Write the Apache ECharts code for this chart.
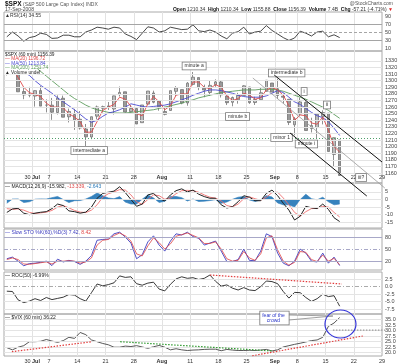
<!DOCTYPE html>
<html><head><meta charset="utf-8">
<script src="https://cdn.jsdelivr.net/npm/echarts@6.0.0/dist/echarts.min.js"></script>
<style>html,body{margin:0;padding:0;background:#fff;}#chart{width:400px;height:364px;}</style>
</head><body><div id="chart"></div>
<script>
// ---------- DATA (trading days, 60-min chart summarised per day) ----------
const days = ['Jun 24','Jun 25','Jun 26','Jun 27','Jun 30','Jul 1','Jul 2','Jul 3','Jul 7','Jul 8','Jul 9','Jul 10','Jul 11','Jul 14','Jul 15','Jul 16','Jul 17','Jul 18','Jul 21','Jul 22','Jul 23','Jul 24','Jul 25','Jul 28','Jul 29','Jul 30','Jul 31','Aug 1','Aug 4','Aug 5','Aug 6','Aug 7','Aug 8','Aug 11','Aug 12','Aug 13','Aug 14','Aug 15','Aug 18','Aug 19','Aug 20','Aug 21','Aug 22','Aug 25','Aug 26','Aug 27','Aug 28','Aug 29','Sep 2','Sep 3','Sep 4','Sep 5','Sep 8','Sep 9','Sep 10','Sep 11','Sep 12','Sep 15','Sep 16','Sep 17','Sep 18','Sep 19','Sep 22','Sep 23','Sep 24','Sep 25','Sep 26','Sep 29'];
const tickLabels = {5:'30 {m|Jul}',8:'7',13:'14',18:'21',23:'28',28:'{m|Aug}',33:'11',38:'18',43:'25',48:'{m|Sep}',52:'8',57:'15',62:'22',67:'29'};
const gridDays = [5,8,13,18,23,28,33,38,43,48,52,57,62];

const priceOpen  = [1317.2,1314.5,1321.9,1283.6,1278.0,1276.7,1285.0,1262.9,1262.9,1251.8,1273.4,1245.3,1248.7,1241.6,1226.8,1214.7,1246.3,1258.2,1261.8,1257.1,1278.9,1283.2,1253.1,1257.8,1236.4,1264.5,1281.4,1269.4,1253.3,1254.9,1283.9,1286.5,1266.3,1294.4,1304.8,1288.6,1282.1,1293.9,1298.1,1276.7,1267.3,1271.1,1277.6,1290.5,1267.0,1271.3,1283.8,1296.5,1287.8,1276.6,1271.8,1233.2,1249.5,1267.0,1227.5,1229.0,1245.9,1250.9,1188.3,1210.3];
const priceHigh  = [1326.0,1335.6,1321.9,1289.5,1290.7,1285.3,1292.2,1271.7,1273.9,1277.8,1277.4,1257.7,1257.3,1254.0,1234.4,1245.5,1262.3,1262.2,1267.7,1277.4,1291.2,1283.2,1263.2,1260.1,1263.2,1284.3,1284.9,1270.5,1260.5,1284.9,1291.7,1286.5,1297.9,1313.2,1304.8,1294.0,1300.1,1302.0,1300.2,1276.7,1276.0,1281.6,1293.1,1290.5,1275.7,1289.6,1300.7,1296.5,1303.0,1280.6,1271.8,1244.9,1274.4,1268.7,1243.9,1249.1,1255.1,1250.9,1214.1,1210.3];
const priceLow   = [1308.0,1314.5,1283.0,1272.0,1274.9,1260.7,1261.5,1252.0,1240.7,1248.8,1244.6,1236.8,1225.4,1225.9,1200.4,1211.4,1241.4,1251.8,1255.7,1248.8,1276.1,1251.5,1251.8,1234.4,1236.4,1264.5,1265.7,1254.5,1247.5,1254.7,1276.6,1264.3,1262.1,1292.8,1285.6,1274.9,1276.8,1290.7,1274.5,1263.1,1261.2,1265.2,1277.6,1264.9,1263.2,1271.1,1283.8,1282.8,1272.2,1265.6,1232.8,1217.2,1247.1,1224.5,1221.6,1211.5,1233.8,1192.7,1169.3,1155.9];
const priceClose = [1314.3,1322.0,1283.2,1278.4,1280.0,1284.9,1261.5,1262.9,1252.3,1273.7,1244.7,1253.4,1239.5,1228.3,1214.9,1245.4,1260.3,1260.7,1260.0,1277.0,1282.2,1252.5,1257.8,1234.4,1263.2,1284.3,1267.4,1260.3,1249.0,1284.9,1289.2,1266.1,1296.3,1305.3,1289.6,1285.8,1292.9,1298.2,1278.6,1266.7,1274.5,1277.7,1292.2,1266.8,1271.5,1281.7,1300.7,1282.8,1277.6,1275.0,1236.8,1242.3,1267.8,1224.5,1232.0,1249.1,1251.7,1192.7,1213.6,1156.4];
const ma20  = [1318,1318,1305,1290,1282,1279,1276,1266,1260,1260,1259,1250,1245,1238,1222,1222,1238,1255,1260,1264,1275,1272,1261,1250,1247,1265,1276,1268,1256,1262,1278,1280,1280,1298,1298,1290,1288,1294,1290,1277,1270,1273,1281,1278,1272,1274,1286,1290,1286,1278,1262,1240,1248,1247,1236,1234,1245,1225,1200,1192];
const ma50  = [1320,1320,1318,1313,1308,1300,1293,1287,1281,1274,1268,1262,1256,1249,1242,1237,1240,1246,1251,1253,1256,1260,1265,1263,1261,1260,1261,1262,1263,1265,1268,1271,1274,1278,1281,1284,1286,1286,1285,1283,1281,1278,1276,1275,1275,1275,1277,1281,1285,1282,1275,1268,1264,1258,1252,1247,1244,1238,1228,1217];
const ma200 = [1340,1337,1334,1330,1326,1321,1314,1307,1300,1293,1286,1279,1273,1268,1263,1259,1256,1254,1252,1251,1251,1251,1252,1253,1254,1255,1256,1258,1260,1262,1264,1266,1269,1271,1274,1276,1278,1280,1282,1283,1284,1285,1286,1286,1286,1287,1287,1287,1286,1284,1281,1278,1275,1272,1268,1264,1260,1255,1249,1243];
const rsi   = [38,50,40,27,36,39,47,44,34,35,42,42,38,38,50,55,62,60,57,62,60,45,39,31,47,63,60,50,53,62,59,56,57,68,53,51,55,50,40,33,47,51,62,45,50,52,66,54,45,36,29,35,52,47,40,50,52,38,43,36];
const macdLine   = [-8.5,-6.2,-5.8,-9,-10,-9,-8.4,-8,-6,-3,-4,-7.5,-8,-9,-8.3,-5,0.8,4,4.8,5.5,8.4,4.5,0,-4.5,-3,3,4,0.6,-1,3,5.8,7,5,6.2,3.5,1.9,0.8,0.8,-3.5,-5.6,-4.7,-1.5,2.5,1.5,-0.8,-0.8,4,6.2,2.5,-2.5,-7,-13.5,-11,-4.5,-5.5,-6,-3,-6.5,-12,-14.5];
const macdSignal = [-6,-6.5,-6.2,-7,-8.5,-9.2,-8.8,-8.3,-7.2,-5,-4,-5.5,-7.2,-8.3,-8.6,-7,-3.5,1.5,3.8,5,6.5,6.2,3,-1.5,-3.2,0,3,2.5,0.2,1,3.8,5.8,6,5.8,4.8,3,1.5,0.9,-1,-4,-4.8,-3,0.5,1.8,0.5,-0.5,1.5,4.5,4.8,1,-3.5,-8.5,-11,-8,-6,-5.8,-4.5,-5,-8.5,-11.5];
const macdHist   = [-2.5,0.3,0.4,-2,-1.5,0.2,0.4,0.3,1.2,2,0,-2,-0.8,-0.7,0.3,2,4.3,2.5,1,0.5,1.9,-1.7,-3,-3,0.2,3,1,-1.9,-1.2,2,2,1.2,-1,0.4,-1.3,-1.1,-0.7,-0.1,-2.5,-1.6,0.1,1.5,2,-0.3,-1.3,-0.3,2.5,1.7,-2.3,-3.5,-3.5,-5,0,3.5,0.5,-0.2,1.5,-1.5,-3.5,-3];
const stoK = [26,30,20,8.5,14,15,17,20,9,25,18,22,19,12,20,34,72,74,75,88,92,80,65,26,36,68,83,60,45,70,88,85,92,81,77,60,65,70,45,19,19,24,50,22,21,45,88,81,40,15,8.5,20,50,40,20,18,40,15,30,9];
const stoD = [24,28,24,13,12,14,16,18,13,20,20,21,20,15,18,28,60,72,74,84,90,83,70,38,33,58,78,66,50,63,82,86,90,84,78,64,64,68,50,26,20,22,44,28,22,38,78,83,48,20,10,17,44,42,24,19,35,20,27,11];
const roc  = [-1.5,-1.6,-4.4,-5.3,-4.8,-4,-4.6,-3.6,-4.3,-3.9,-3.5,-2.6,-2.8,-4,-4.8,-2,0.9,0.3,0.7,1.3,3.6,3.1,3.3,1,0.5,1.2,1.5,-0.8,-1.4,0.8,2.6,3.3,2.8,3,2.4,2.8,3.9,1.8,0.2,0.6,-0.5,-1.1,-0.3,-1.1,-1.3,0,1.9,1.7,1,-1.6,-3.8,-1.9,-2,-3.6,-4.9,-4,-2.5,-3.3,-3,-6.5];
const vix  = [22.3,21.3,22.5,23.2,25,25,25.2,26,25.3,24.7,25.5,27,26.5,29.2,28.2,25.8,25,24.2,23.6,22.5,22.5,23,22.8,23.2,22.6,22,22.7,23.3,22.5,21.3,21.8,21.3,21,21.2,21.3,21.5,21.6,21.6,20.9,21.5,21.2,21,21,21.1,21,21.2,21.5,20.8,21.3,22.6,23.2,23.8,24.3,24.9,25.5,25.8,27,32,33.5,36];

const rsiTicks   = [90,70,50,30,10];
const priceTicks = [1330,1320,1310,1300,1290,1280,1270,1260,1250,1240,1230,1220,1210,1200,1190,1180,1170,1160];
const macdTicks  = [5,0,-5,-10,-15];
const stoTicks   = [80,50,20];
const rocTicks   = [2.5,0,-2.5,-5,-7.5];
const vixTicks   = [35,32.5,30,27.5,25,22.5,20];
const prevCloseLevel = 1212.5;

// annotations in data units: day (trading-day index, fractional) and value
const waveLabels = [
  {t:'intermediate a', d:15.1, v:1194.2},
  {t:'minute a', d:33.7, v:1322.3},
  {t:'minute b', d:41.4, v:1245.8},
  {t:'intermediate b', d:50.1, v:1311.7},
  {t:'i', d:53.2, v:1283.6},
  {t:'ii', d:57.25, v:1263.2},
  {t:'minor 1', d:49.2, v:1213.9},
  {t:'minute i', d:53.6, v:1204.1},
  {t:'iii?', d:63.3, v:1153.3}
];
const priceTrend = [
  {d1:47.9, v1:1308.6, d2:67.0, v2:1176.8, c:'#111', w:1},
  {d1:44.1, v1:1304.1, d2:67.5, v2:1137.4, c:'#999', w:0.8},
  {d1:50.7, v1:1220.8, d2:64.3, v2:1125.3, c:'#111', w:1}
];
const rocTrend = [{d1:36.5, v1:3.9, d2:59.9, v2:0.9, c:'#e23b3b'}];
const vixTrend = [
  {d1:1.4, v1:20.46, d2:15.6, v2:25.0, c:'#e23b3b'},
  {d1:20.6, v1:25.0, d2:47.7, v2:20.77, c:'#2f9a2f'},
  {d1:44.0, v1:18.6, d2:63.6, v2:27.6, c:'#e23b3b'},
  {d1:58.3, v1:30.3, d2:67.9, v2:30.3, c:'#999'}
];

// ---------- CHART ----------
const FONT = '"Liberation Sans", Arial, sans-serif';
const chart = echarts.init(document.getElementById('chart'), null, {renderer:'canvas'});
const panels = [
  {top:12,  height:39,  min:2.5,    max:100},
  {top:51,  height:132, min:1145,   max:1345},
  {top:183, height:45,  min:-18.75, max:10.85},
  {top:229, height:41,  min:-2,     max:100},
  {top:272, height:42,  min:-9.1,   max:4.9},
  {top:314, height:42,  min:18.5,   max:37.6}
];
const grid = panels.map(p => ({left:4, right:18, top:p.top, height:p.height, show:true, borderColor:'#aaa', borderWidth:1}));
const xAxis = [];
panels.forEach((p,i) => {
  xAxis.push({type:'category', gridIndex:i, data:days, boundaryGap:false,
    axisLine:{show:false}, axisTick:{show:false},
    axisLabel:{show:(i===1||i===5), inside:(i===1), margin:(i===1?3:2),
      interval:(idx)=>tickLabels[idx]!==undefined,
      formatter:(v,idx)=>tickLabels[idx]||'',
      fontSize:5.5, color:'#333', fontFamily:FONT,
      rich:{m:{fontSize:5.5, fontWeight:'bold', color:'#333', fontFamily:FONT}}},
    splitLine:{show:true, interval:(idx)=>gridDays.includes(idx), lineStyle:{color:'#e2e2e2', width:1}}});
  xAxis.push({type:'category', gridIndex:i, data:days.slice(0,67), boundaryGap:true, show:false});
});
const yAxis = panels.map((p,i)=>({type:'value', gridIndex:i, position:'right', min:p.min, max:p.max,
  axisLine:{show:false}, axisTick:{show:false}, axisLabel:{show:false}, splitLine:{show:false}}));

function tickSeries(i, ticks, fmt, styleFn, extra) {
  const data = ticks.map(v => ({yAxis:v, lineStyle:styleFn(v)}));
  if (extra) data.push(...extra);
  return {type:'line', xAxisIndex:2*i+1, yAxisIndex:i, data:[], z:1, silent:true,
    markLine:{silent:true, symbol:['none','none'], animation:false, precision:2,
      label:{show:true, position:'end', distance:3, fontSize:5.5, color:'#444', fontFamily:FONT,
        formatter:(prm)=>fmt(prm.value)},
      emphasis:{disabled:true}, data}};
}
const faint = ()=>({color:'#e4e4e4', type:'solid', width:1});
const lineS = (x,y,data,color,w,z)=>({type:'line', xAxisIndex:x, yAxisIndex:y, data, symbol:'none', silent:true, z:z||3,
  lineStyle:{color, width:w||0.9}, itemStyle:{color}});

const series = [
  tickSeries(0, rsiTicks, v=>String(v), v=> (v===70||v===30)?{color:'#a5a5a5',type:'solid',width:1}:(v===50?{color:'#a5a5a5',type:[3,2],width:1}:{color:'rgba(0,0,0,0)',type:'solid',width:1})),
  tickSeries(1, priceTicks, v=>String(v), faint, [{yAxis:prevCloseLevel, label:{show:false}, lineStyle:{color:'#4f9f6a', type:[1,2], width:1}}]),
  tickSeries(2, macdTicks, v=>String(v), faint),
  tickSeries(3, stoTicks, v=>String(v), v=> v===50?{color:'#a8a8c8',type:[4,2,1,2],width:1}:{color:'#a8a8c8',type:'solid',width:1}),
  tickSeries(4, rocTicks, v=>v.toFixed(1), v=> v===0?{color:'#aaa',type:[4,2,1,2],width:1}:faint()),
  tickSeries(5, vixTicks, v=>v.toFixed(1), faint),
  lineS(1,0,rsi,'#333',0.9),
  {type:'candlestick', xAxisIndex:3, yAxisIndex:1, silent:true, barWidth:'55%', z:2,
    data: priceOpen.map((o,k)=>[o, priceClose[k], priceLow[k], priceHigh[k]]),
    itemStyle:{color:'#bdbdbd', color0:'#9a9a9a', borderColor:'#747474', borderColor0:'#747474', borderWidth:0.8}},
  lineS(3,1,ma200,'#5c9c5c',0.9),
  lineS(3,1,ma50,'#4b4bd0',0.9),
  lineS(3,1,ma20,'#e04848',0.9),
  {type:'line', xAxisIndex:5, yAxisIndex:2, data:macdHist, symbol:'none', silent:true, z:2,
    lineStyle:{color:'#2b7bb9', width:0.6}, areaStyle:{color:'#2b7bb9', opacity:0.95}},
  lineS(5,2,macdSignal,'#f07070',0.9),
  lineS(5,2,macdLine,'#222',1),
  lineS(7,3,stoK,'#3c3cc0',0.9),
  lineS(7,3,stoD,'#e04444',0.8),
  lineS(9,4,roc,'#222',0.9),
  lineS(11,5,vix,'#444',0.9)
];

chart.setOption({animation:false, backgroundColor:'#fff', grid, xAxis, yAxis, series});

// ---------- ANNOTATIONS (placed through the axes) ----------
function px(panel, day, val) {
  const a = 2*panel;
  const x0 = chart.convertToPixel({xAxisIndex:a}, 0);
  const x1 = chart.convertToPixel({xAxisIndex:a}, 1);
  return [x0 + (x1-x0)*day, chart.convertToPixel({yAxisIndex:panel}, val)];
}
const G = [];
const txt = (x,y,text,extra)=>G.push(Object.assign({type:'text', z:100, silent:true, x, y,
  style:Object.assign({text, fontSize:5.5, fontFamily:FONT, fill:'#222'}, extra||{})}));

// header
txt(5,1,'{b|$SPX} (S&P 500 Large Cap Index) INDX',{rich:{b:{fontWeight:'bold', fontSize:6.5, fontFamily:FONT, fill:'#111'}}, fill:'#555', fontSize:5});
txt(5,7.5,'17-Sep-2008',{fontSize:5, fill:'#444'});
txt(393,1,'@StockCharts.com',{align:'right', fontSize:5, fill:'#555'});
txt(393,7,'{b|Open} 1210.34  {b|High} 1210.34  {b|Low} 1155.88  {b|Close} 1156.39  {b|Volume} 7.4B  {b|Chg} -57.21 (-4.71%) {r|▼}',
  {align:'right', fontSize:5, fill:'#333', rich:{b:{fontWeight:'bold', fontSize:5, fontFamily:FONT, fill:'#111'}, r:{fill:'#d22', fontSize:5}}});
// panel legends
txt(5,13,'▲RSI(14) 34.55',{fontSize:5, fill:'#333'});
G.push({type:'rect', z:99, silent:true, shape:{x:4.5, y:51.5, width:33, height:23}, style:{fill:'#fff'}});
txt(5,52,'$SPX (60 min) 1156.39',{fontSize:4.8, fill:'#222'});
txt(5,56.5,'— MA(20) 1196.72',{fontSize:4.8, fill:'#e04848'});
txt(5,61,'— MA(50) 1213.84',{fontSize:4.8, fill:'#4b4bd0'});
txt(5,65.5,'— MA(200) 1251.74',{fontSize:4.8, fill:'#5c9c5c'});
txt(5,70,'▲ Volume undef',{fontSize:4.8, fill:'#222'});
txt(5,184.5,'— MACD(12,26,9) -15.982, {r|-13.339,} {b|-2.643}',{fontSize:5, fill:'#222', rich:{r:{fill:'#e04848',fontSize:5}, b:{fill:'#2b7bb9',fontSize:5}}});
txt(5,230.5,'— Slow STO %K(60),%D(3) {k|7.42,} {d|8.42}',{fontSize:5, fill:'#3c3cc0', rich:{k:{fill:'#3c3cc0',fontSize:5}, d:{fill:'#e04444',fontSize:5}}});
txt(5,273.5,'— ROC(50) -6.99%',{fontSize:5, fill:'#222'});
txt(5,315.5,'— $VIX (60 min) 36.22',{fontSize:5, fill:'#222'});

// trend lines
const tline = (panel, t, dash, w)=>{
  const p1 = px(panel, t.d1, t.v1), p2 = px(panel, t.d2, t.v2);
  G.push({type:'line', z:101, silent:true, shape:{x1:p1[0], y1:p1[1], x2:p2[0], y2:p2[1]},
    style:{stroke:t.c, lineWidth:w||t.w||1, lineDash:dash||null}});
};
priceTrend.forEach(t=>tline(1,t));
rocTrend.forEach(t=>tline(4,t,[1.5,1.5],1.2));
vixTrend.forEach(t=>tline(5,t,[1.5,1.5],1.2));

// wave labels
waveLabels.forEach(w=>{
  const p = px(1, w.d, w.v);
  txt(p[0], p[1], w.t, {align:'center', verticalAlign:'middle', fontSize:5, fill:'#333',
    backgroundColor:'#fff', borderColor:'#7a7a7a', borderWidth:0.8, padding:[1,2,1,2]});
});

// VIX callout
const c = px(5, 59.64, 33.05);
G.push({type:'ellipse', z:102, silent:true, shape:{cx:c[0], cy:c[1], rx:15.5, ry:14}, style:{fill:'none', stroke:'#3535d8', lineWidth:1.2}});
const b = px(5, 47.94, 35.78);
const ca = px(5, 50.5, 37.15), cb = px(5, 50.5, 34.87), ct = px(5, 58.3, 36.69);
G.push({type:'line', z:101, silent:true, shape:{x1:ca[0],y1:ca[1],x2:ct[0],y2:ct[1]}, style:{stroke:'#888', lineWidth:0.8}});
G.push({type:'line', z:101, silent:true, shape:{x1:cb[0],y1:cb[1],x2:ct[0],y2:ct[1]}, style:{stroke:'#888', lineWidth:0.8}});
txt(b[0], b[1], 'fear of the\ncrowd', {align:'center', verticalAlign:'middle', fontSize:5, fill:'#2a36c8', lineHeight:5.5,
  backgroundColor:'#fff', borderColor:'#777', borderWidth:0.8, padding:[1,4,1,2]});

chart.setOption({graphic:{elements:G}});
</script></body></html>
